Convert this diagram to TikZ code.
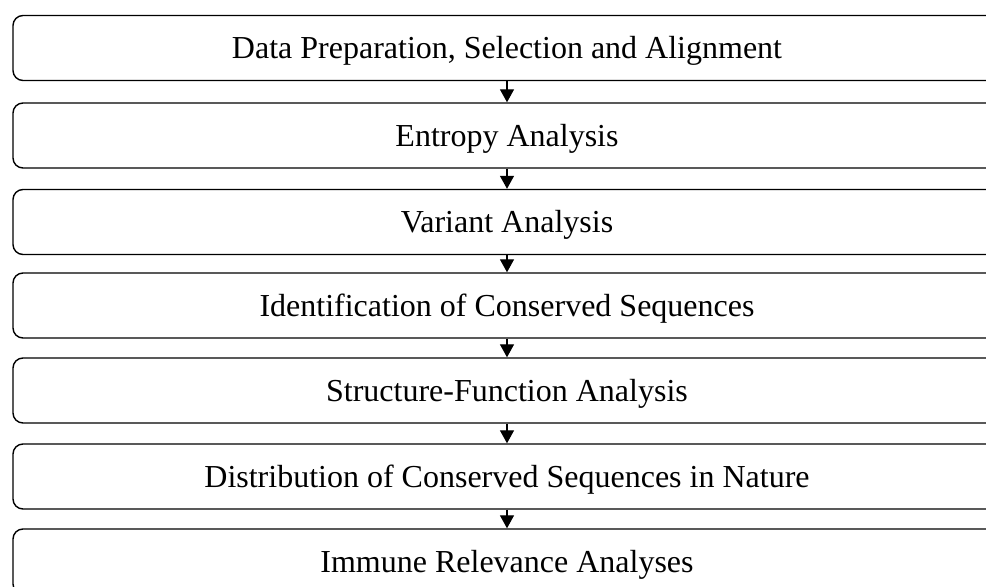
\documentclass[tikz,border=0pt]{standalone}
\usepackage{fontspec}
\setmainfont{Liberation Serif}
\usetikzlibrary{arrows.meta}

\tikzset{
  stage/.style={draw, rounded corners=5pt, line width=0.7pt, minimum width=494pt, minimum height=32.5pt, inner sep=0pt, text height=10.6pt, text depth=0pt, font=\fontsize{16}{19}\selectfont},
  flow/.style={line width=0.7pt, -{Triangle[length=6.5pt, width=7pt]}}
}

\begin{document}
\begin{tikzpicture}[x=0.5pt, y=0.5pt]
    \useasboundingbox (0,0) rectangle (986,-587);
    \clip (0,0) rectangle (986,-587);

    \node[stage] (prep) at (507,-48) {Data Preparation, Selection and Alignment};
    \node[stage] (entropy) at (507,-135.5) {Entropy Analysis};
    \node[stage] (variant) at (507,-222) {Variant Analysis};
    \node[stage] (conserved) at (507,-305.5) {Identification of Conserved Sequences};
    \node[stage] (structure) at (507,-390.5) {Structure-Function Analysis};
    \node[stage] (nature) at (507,-476.5) {Distribution of Conserved Sequences in Nature};
    \node[stage] (immune) at (507,-561.5) {Immune Relevance Analyses};

    \draw[flow] (prep) -- (entropy);
    \draw[flow] (entropy) -- (variant);
    \draw[flow] (variant) -- (conserved);
    \draw[flow] (conserved) -- (structure);
    \draw[flow] (structure) -- (nature);
    \draw[flow] (nature) -- (immune);
\end{tikzpicture}
\end{document}
